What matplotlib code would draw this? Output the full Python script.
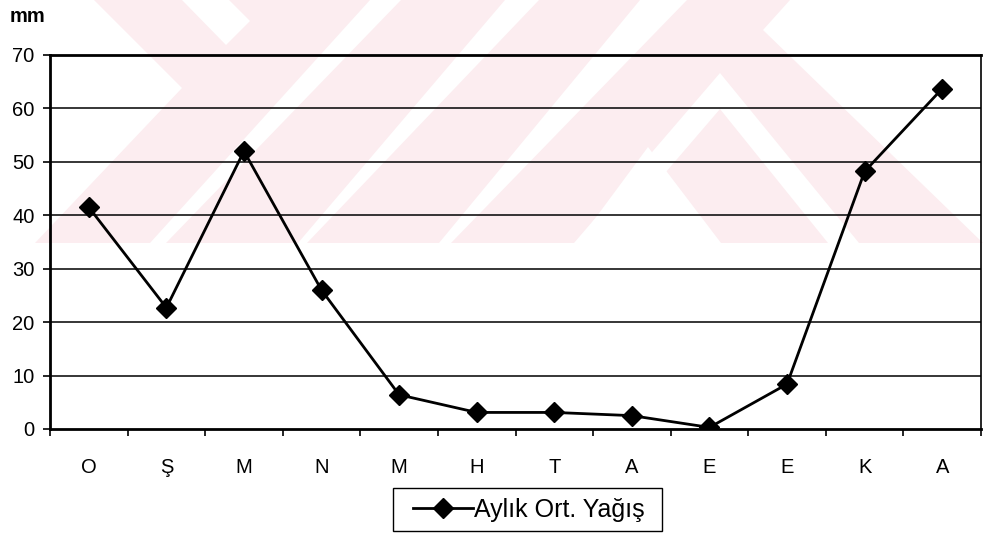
import matplotlib
matplotlib.use("Agg")
import matplotlib.pyplot as plt
from matplotlib.patches import Polygon, Rectangle

plt.rcParams["font.family"] = ["Liberation Sans", "DejaVu Sans"]

# monthly mean precipitation (mm), water year order
months = ["O", "Ş", "M", "N", "M", "H", "T", "A", "E", "E", "K", "A"]
rain = [41.5, 22.7, 52.0, 26.0, 6.4, 3.1, 3.1, 2.5, 0.3, 8.4, 48.2, 63.7]
y_ticks = [0, 10, 20, 30, 40, 50, 60, 70]
series_name = "Aylık Ort. Yağış"

W, H = 983, 534
PINK = "#fcedf0"


def draw_watermark(fig):
    # faint page stamp behind the chart, drawn in pixel units
    bg = fig.add_axes([0, 0, 1, 1], zorder=-5)
    bg.set_xlim(0, W)
    bg.set_ylim(H, 0)
    bg.axis("off")
    outline = [(94, 0), (790, 0), (763, 30), (983, 243), (35, 243), (182, 88)]
    cuts = [
        [(182, 0), (229, 0), (250, 21), (226, 45)],
        [(370, 0), (401, 0), (166, 243), (150, 243)],
        [(505, 0), (539, 0), (307, 243), (298, 243)],
        [(640, 0), (687, 0), (451, 243), (439, 243)],
        [(574, 243), (720, 73), (859, 243), (828, 243), (720, 109), (605, 243)],
        [(577, 243), (648, 147), (721, 243)],
    ]
    bg.add_patch(Polygon(outline, closed=True, facecolor=PINK, edgecolor="none"))
    for c in cuts:
        bg.add_patch(Polygon(c, closed=True, facecolor="white", edgecolor="none"))
    return bg


def plot_rain():
    fig = plt.figure(figsize=(W / 100, H / 100), dpi=100)
    bg = draw_watermark(fig)

    ax = fig.add_axes([50 / W, 1 - 429 / H, 931 / W, 374 / H])
    ax.set_facecolor("none")

    x = list(range(len(months)))
    ax.plot(x, rain, color="black", lw=2, marker="D", markersize=10.5,
            markerfacecolor="black", markeredgecolor="black", label=series_name, zorder=5)

    ax.set_xlim(-0.5, len(months) - 0.5)
    ax.set_ylim(0, 70)
    ax.set_yticks(y_ticks)
    for v in y_ticks[1:-1]:
        ax.axhline(v, color="black", lw=1.1, zorder=1)

    ax.set_xticks(x)
    ax.set_xticklabels(months)
    ax.set_xticks([i - 0.5 for i in range(len(months) + 1)], minor=True)
    ax.tick_params(axis="x", which="major", length=0, pad=21, labelsize=14.5)
    ax.tick_params(axis="x", which="minor", length=5, width=1.2, direction="out")
    ax.tick_params(axis="y", length=5, width=1.2, pad=6, labelsize=14.5)

    for side in ["left", "bottom", "top"]:
        ax.spines[side].set_linewidth(2)
    ax.spines["right"].set_linewidth(1.2)

    fig.text(10 / W, 1 - 16 / H, "mm", fontsize=14.5, fontweight="bold", ha="left", va="center")

    # legend without its own frame, boxed separately
    fig.legend(loc="center", bbox_to_anchor=(529 / W, 1 - 510 / H), fontsize=18,
               frameon=False, handlelength=2.4, handletextpad=0.05)
    bg.add_patch(Rectangle((393, 488), 269, 43, facecolor="white", edgecolor="black", lw=1))

    fig.savefig("out.png", dpi=100)


if __name__ == "__main__":
    plot_rain()
